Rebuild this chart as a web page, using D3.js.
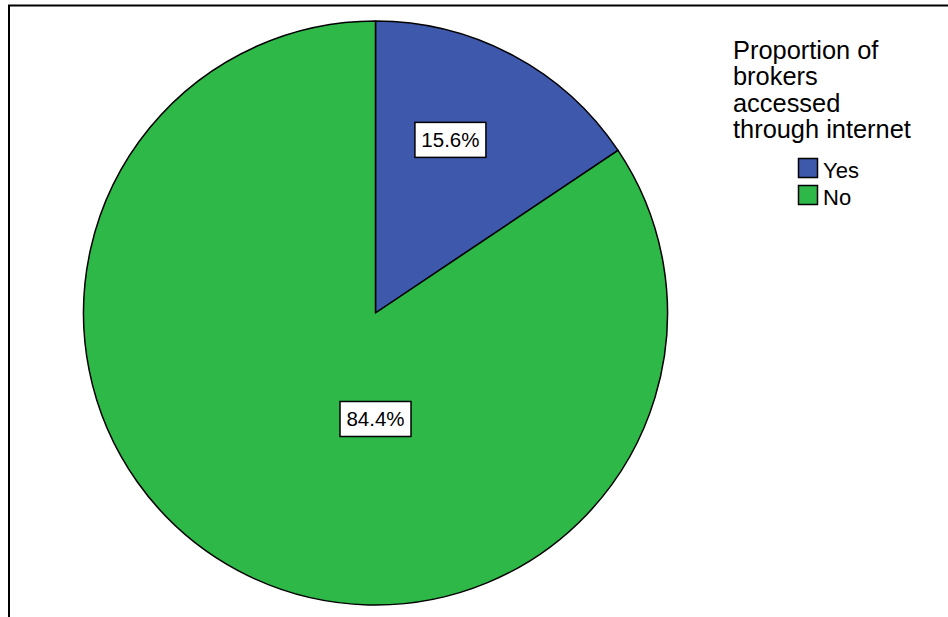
<!DOCTYPE html>
<html><head><meta charset="utf-8">
<script src="https://cdn.jsdelivr.net/npm/d3@7/dist/d3.min.js"></script>
<style>body{margin:0;background:#fff}svg{display:block}text{font-family:Arial,"Liberation Sans",sans-serif}</style>
</head><body>
<script>
const categories = ["Yes", "No"];
const values = [15.6, 84.4];
const valueLabels = ["15.6%", "84.4%"];
const legendTitle = ["Proportion of", "brokers", "accessed", "through internet"];
const colors = ["#3e58ac", "#2eb848"];

const W = 948, H = 617;
const svg = d3.select("body").append("svg").attr("width", W).attr("height", H);

// frame
svg.append("path").attr("d", `M9,617 V5.5 H948`).attr("fill", "none").attr("stroke", "#000").attr("stroke-width", 2);

const cx = 375.5, cy = 313, R = 292;
const g = svg.append("g").attr("transform", `translate(${cx},${cy})`);
const pie = d3.pie().sort(null).value(d => d)(values);
const arc = d3.arc().innerRadius(0).outerRadius(R);
g.selectAll("path.slice").data(pie).join("path")
  .attr("class", "slice")
  .attr("d", arc)
  .attr("fill", (d, i) => colors[i])
  .attr("stroke", "#000").attr("stroke-width", 1.5).attr("stroke-linejoin", "round");

// label placement (angle in degrees clockwise from 12 o'clock, radius fraction)
const labelPlace = [{a: 23.4, r: 0.646}, {a: 180, r: 0.363}];
pie.forEach((d, i) => {
  const a = labelPlace[i].a * Math.PI / 180, r = labelPlace[i].r * R;
  const x = Math.sin(a) * r, y = -Math.cos(a) * r;
  const lg = g.append("g").attr("transform", `translate(${x},${y})`);
  lg.append("rect").attr("x", -35.5).attr("y", -17.5).attr("width", 71).attr("height", 35)
    .attr("fill", "#fff").attr("stroke", "#000").attr("stroke-width", 1.5);
  lg.append("text").attr("text-anchor", "middle").attr("dy", "0.35em")
    .attr("font-size", 20.5).attr("fill", "#000").text(valueLabels[i]);
});

// legend
const lgd = svg.append("g");
legendTitle.forEach((s, i) => {
  lgd.append("text").attr("x", 733).attr("y", 59 + i * 26.3).attr("font-size", 25.4).attr("fill", "#000").text(s);
});
categories.forEach((c, i) => {
  const y0 = 158 + i * 27;
  lgd.append("rect").attr("x", 798.5).attr("y", y0 + 0.5).attr("width", 19).attr("height", 19)
    .attr("fill", colors[i]).attr("stroke", "#000").attr("stroke-width", 1.5);
  lgd.append("text").attr("x", 823).attr("y", y0 + 19.5).attr("font-size", 22).attr("fill", "#000").text(c);
});
</script>
</body></html>
